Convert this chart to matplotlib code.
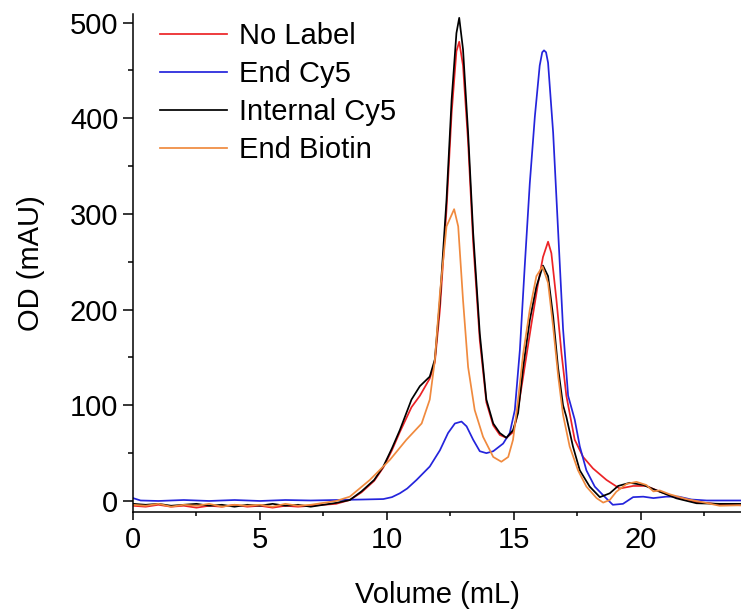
import matplotlib
matplotlib.use("Agg")
import matplotlib.pyplot as plt
from matplotlib.ticker import MultipleLocator

plt.rcParams['font.family'] = ['Liberation Sans', 'DejaVu Sans']

labels = ["No Label", "End Cy5", "Internal Cy5", "End Biotin"]
colors = ["#ec2326", "#2424dc", "#000000", "#f08a3e"]

# No Label (red)
red_x = [0, 0.5, 1.0, 1.5, 2.0, 2.5, 3.0, 3.5, 4.0, 4.5, 5.0, 5.5, 6.0, 6.5, 7.0, 7.5,
         8.0, 8.54, 9.0, 9.5, 9.86, 10.2, 10.51, 10.97, 11.30, 11.69, 11.89, 12.09,
         12.35, 12.55, 12.74, 12.85, 13.0, 13.2, 13.4, 13.66, 13.92, 14.19, 14.45,
         14.71, 14.97, 15.1, 15.37, 15.7, 15.96, 16.15, 16.35, 16.48, 16.68, 16.88,
         17.07, 17.4, 17.73, 18.12, 18.65, 19.17, 19.7, 20.22, 20.75, 21.4, 22.2,
         23.1, 23.95]
red_y = [-5, -6, -4, -6, -5, -7, -5, -6, -4, -6, -5, -7, -5, -6, -5, -4,
         -3, 1, 9, 21, 35, 53, 72, 98, 110, 128, 145, 200,
         305, 405, 470, 480, 455, 375, 270, 168, 103, 79, 69,
         66, 72, 85, 130, 186, 228, 255, 271, 259, 210, 154,
         110, 64, 46, 34, 22, 13, 15.7, 15.7, 9.7, 4, -1,
         -3.5, -4.5]

# End Cy5 (blue)
blue_x = [0, 0.3, 1.0, 2.0, 3.0, 4.0, 5.0, 6.0, 7.0, 8.0, 9.0, 9.86, 10.2, 10.51,
          10.8, 11.17, 11.69, 12.09, 12.41, 12.68, 12.94, 13.14, 13.4, 13.66, 13.92,
          14.19, 14.58, 14.84, 15.04, 15.24, 15.43, 15.63, 15.83, 16.02, 16.12, 16.19,
          16.27, 16.35, 16.55, 16.75, 16.94, 17.14, 17.4, 17.6, 17.86, 18.19, 18.52, 18.9,
          19.3, 19.7, 20.1, 20.5, 21.0, 21.5, 22.0, 22.6, 23.95]
blue_y = [3, 0.5, 0, 1, 0, 1, 0, 1, 0.5, 1, 1.5, 2, 4, 8,
          13, 22, 36, 53, 71, 81, 83, 78, 64, 52, 50,
          52, 60, 71, 95, 158, 245, 332, 402, 455, 469, 471,
          469, 458, 385, 280, 180, 110, 85, 57, 32, 15, 6, -4,
          -3, 4, 4.5, 3, 4.5, 4.5, 1.5, 0.5, 0.5]

# Internal Cy5 (black)
black_x = [0, 0.5, 1.0, 1.5, 2.0, 2.5, 3.0, 3.5, 4.0, 4.5, 5.0, 5.5, 6.0, 6.5, 7.0, 7.5,
           8.0, 8.54, 9.0, 9.5, 9.86, 10.2, 10.51, 10.97, 11.30, 11.69, 11.89, 12.09,
           12.35, 12.55, 12.74, 12.85, 13.0, 13.2, 13.4, 13.66, 13.92, 14.19, 14.45,
           14.71, 14.97, 15.17, 15.37, 15.63, 15.89, 16.15, 16.35, 16.55, 16.74, 16.94,
           17.07, 17.33, 17.6, 17.99, 18.39, 18.78, 19.11, 19.57, 20.1, 20.75, 21.4,
           22.2, 23.1, 23.95]
black_y = [-3, -4, -3, -5, -4, -3, -5, -4, -6, -4, -5, -3, -5, -4, -6, -4,
           -2, 1, 10, 22, 36, 55, 74, 106, 120, 130, 148, 210,
           315, 419, 489, 505, 472, 385, 280, 175, 106, 81, 71,
           66, 74, 92, 140, 189, 224, 246, 235, 193, 140, 100,
           88, 57, 32, 15, 4, 8, 15.7, 19, 16.7, 9.7, 2.8,
           -2.4, -3, -3]

# End Biotin (orange)
orange_x = [0, 0.5, 1.0, 1.5, 2.0, 2.5, 3.0, 3.5, 4.0, 4.5, 5.0, 5.5, 6.0, 6.5, 7.0, 7.5,
            8.0, 8.54, 9.33, 10.12, 10.77, 11.37, 11.69, 11.89, 12.09, 12.35, 12.65,
            12.81, 13.0, 13.2, 13.46, 13.79, 14.19, 14.51, 14.78, 14.97, 15.17, 15.37,
            15.63, 15.89, 16.13, 16.35, 16.55, 16.75, 16.94, 17.2, 17.53, 17.86, 18.26,
            18.52, 18.78, 19.04, 19.44, 19.83, 20.22, 20.5, 20.75, 21.14, 21.8, 22.57,
            23.1, 23.95]
orange_y = [-4, -5, -3, -6, -4, -5, -3, -6, -4, -5, -4, -6, -3, -5, -4, -2,
            0, 4.5, 22, 43, 64, 81, 106, 147, 217, 287, 305,
            287, 210, 140, 95, 67, 46, 41, 46, 64, 106, 154,
            200, 235, 245, 228, 182, 130, 90, 57, 32, 15, 3,
            -1.7, 1, 9.7, 17.8, 20, 16.7, 10, 11, 7, 2, -2,
            -5, -4.5]

series = [(red_x, red_y), (blue_x, blue_y), (black_x, black_y), (orange_x, orange_y)]

FS = 21

fig = plt.figure(figsize=(7.41, 6.09), dpi=100)
ax = fig.add_axes([0.1795, 0.1598, 1.0 - 0.1795, 0.977 - 0.1598])

for (xs, ys), lab, col in zip(series, labels, colors):
    ax.plot(xs, ys, color=col, lw=1.25, label=lab)

ax.set_xlim(0, 23.95)
ax.set_ylim(-11.2, 509)
ax.xaxis.set_major_locator(MultipleLocator(5))
ax.xaxis.set_minor_locator(MultipleLocator(2.5))
ax.yaxis.set_major_locator(MultipleLocator(100))
ax.yaxis.set_minor_locator(MultipleLocator(50))

for s in ["top", "right"]:
    ax.spines[s].set_visible(False)
for s in ["left", "bottom"]:
    ax.spines[s].set_linewidth(1.1)

ax.tick_params(axis="x", which="major", direction="out", length=6, width=1.1, labelsize=FS, pad=4.5)
ax.tick_params(axis="x", which="minor", direction="out", length=3, width=1.1)
ax.tick_params(axis="y", which="major", direction="out", length=7.5, width=1.1, labelsize=FS, pad=3)
ax.tick_params(axis="y", which="minor", direction="out", length=3.5, width=1.1)

ax.set_xlabel("Volume (mL)", fontsize=FS, labelpad=19)
ax.set_ylabel("OD (mAU)", fontsize=FS, labelpad=18)

ax.legend(loc="upper left", bbox_to_anchor=(0.045, 0.983), frameon=False,
          fontsize=FS, handlelength=2.3, handletextpad=0.38, labelspacing=0.34,
          borderpad=0, borderaxespad=0)

fig.savefig("out.png", dpi=100)
